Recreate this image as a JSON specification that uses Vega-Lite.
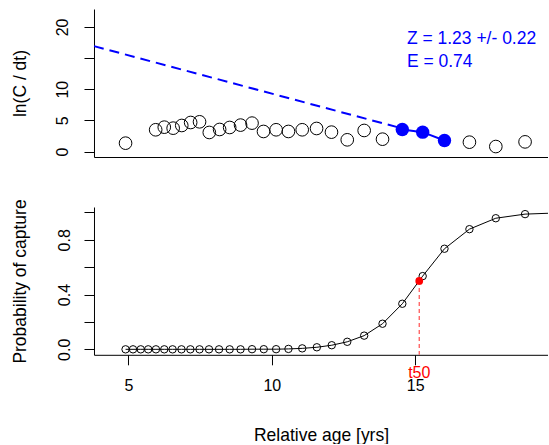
{
  "$schema": "https://vega.github.io/schema/vega-lite/v6.json",
  "padding": {"left": 12, "top": 9, "right": 0, "bottom": 0},
  "background": "white",
  "config": {
    "view": {"stroke": null},
    "font": "Liberation Sans",
    "axis": {"grid": false, "domainColor": "#000", "tickColor": "#000", "labelColor": "#000", "titleColor": "#000", "labelFont": "Liberation Sans", "titleFont": "Liberation Sans", "labelFontSize": 16, "titleFontSize": 17.5, "titleFontWeight": "normal", "tickSize": 10}
  },
  "datasets": {
    "open": [
      {"age": 4.90, "lnc": 1.34}, {"age": 5.95, "lnc": 3.49}, {"age": 6.25, "lnc": 3.91}, {"age": 6.56, "lnc": 3.75},
      {"age": 6.86, "lnc": 4.18}, {"age": 7.17, "lnc": 4.66}, {"age": 7.48, "lnc": 4.77}, {"age": 7.82, "lnc": 3.06},
      {"age": 8.18, "lnc": 3.54}, {"age": 8.53, "lnc": 3.86}, {"age": 8.91, "lnc": 4.24}, {"age": 9.31, "lnc": 4.56},
      {"age": 9.71, "lnc": 3.22}, {"age": 10.15, "lnc": 3.49}, {"age": 10.58, "lnc": 3.22}, {"age": 11.06, "lnc": 3.49},
      {"age": 11.56, "lnc": 3.70}, {"age": 12.08, "lnc": 3.11}, {"age": 12.63, "lnc": 1.88}, {"age": 13.22, "lnc": 3.38},
      {"age": 13.86, "lnc": 1.98}, {"age": 16.89, "lnc": 1.50}, {"age": 17.81, "lnc": 0.80}, {"age": 18.83, "lnc": 1.55}
    ],
    "blue": [
      {"age": 14.55, "lnc": 3.54}, {"age": 15.26, "lnc": 3.11}, {"age": 16.02, "lnc": 1.77}
    ],
    "fitline": [
      {"age": 3.8, "lnc": 16.92}, {"age": 14.55, "lnc": 3.70}
    ],
    "prob": [
      {"age": 4.90, "p": 0}, {"age": 5.16, "p": 0}, {"age": 5.43, "p": 0}, {"age": 5.69, "p": 0},
      {"age": 5.96, "p": 0}, {"age": 6.25, "p": 0}, {"age": 6.54, "p": 0}, {"age": 6.85, "p": 0},
      {"age": 7.16, "p": 0}, {"age": 7.48, "p": 0}, {"age": 7.81, "p": 0}, {"age": 8.16, "p": 0},
      {"age": 8.53, "p": 0}, {"age": 8.91, "p": 0}, {"age": 9.31, "p": 0.001}, {"age": 9.72, "p": 0.001},
      {"age": 10.15, "p": 0.001}, {"age": 10.58, "p": 0.003}, {"age": 11.06, "p": 0.007}, {"age": 11.57, "p": 0.015},
      {"age": 12.09, "p": 0.03}, {"age": 12.63, "p": 0.055}, {"age": 13.22, "p": 0.10}, {"age": 13.86, "p": 0.187},
      {"age": 14.55, "p": 0.333}, {"age": 15.26, "p": 0.535}, {"age": 16.02, "p": 0.735}, {"age": 16.89, "p": 0.878},
      {"age": 17.81, "p": 0.958}, {"age": 18.83, "p": 0.988}, {"age": 20.0, "p": 0.997}
    ],
    "t50": [{"age": 15.14, "p": 0.5, "label": "t50", "base": -0.04, "labely": -0.171}],
    "stats": [
      {"age": 14.71, "lnc": 18.05, "label": "Z = 1.23 +/- 0.22"},
      {"age": 14.71, "lnc": 14.42, "label": "E  =  0.74"}
    ]
  },
  "spacing": 50,
  "bounds": "flush",
  "vconcat": [
    {
      "width": 454.3,
      "height": 148,
      "encoding": {
        "x": {"field": "age", "type": "quantitative", "scale": {"domain": [3.8, 19.64], "nice": false, "zero": false},
              "axis": {"title": null, "labels": false, "ticks": false, "domain": true}},
        "y": {"field": "lnc", "type": "quantitative", "scale": {"domain": [-0.88, 22.88], "nice": false, "zero": false},
              "axis": {"title": "ln(C / dt)", "values": [0, 5, 10, 15, 20], "labelExpr": "datum.value == 15 ? '' : datum.label",
                       "labelAngle": -90, "labelAlign": "center", "labelBaseline": "alphabetic", "labelPadding": 16,
                       "titleAngle": -90, "titleAlign": "center", "titleBaseline": "alphabetic", "titleX": -68, "titleY": 74}}
      },
      "layer": [
        {"mark": {"type": "rule", "color": "#000", "strokeWidth": 1}, "encoding": {"y": {"datum": 22.88}, "x": null}},
        {"data": {"name": "fitline"}, "mark": {"type": "line", "color": "#0000ff", "strokeWidth": 2, "strokeDash": [10, 6], "clip": true}},
        {"data": {"name": "blue"}, "mark": {"type": "line", "color": "#0000ff", "strokeWidth": 2}},
        {"data": {"name": "open"}, "mark": {"type": "point", "shape": "circle", "filled": false, "color": "#000", "size": 160, "strokeWidth": 1, "opacity": 1}},
        {"data": {"name": "blue"}, "mark": {"type": "point", "shape": "circle", "filled": true, "color": "#0000ff", "size": 180, "opacity": 1}},
        {"data": {"name": "stats"}, "mark": {"type": "text", "align": "left", "baseline": "middle", "color": "#0000ff", "fontSize": 17.5, "font": "Liberation Sans"},
         "encoding": {"text": {"field": "label"}}}
      ]
    },
    {
      "width": 454.3,
      "height": 147.8,
      "encoding": {
        "x": {"field": "age", "type": "quantitative", "scale": {"domain": [3.8, 19.64], "nice": false, "zero": false},
              "axis": {"title": "Relative age [yrs]", "values": [5, 10, 15], "labelPadding": 13, "labelBaseline": "top",
                       "titleBaseline": "alphabetic", "titleY": 85.7, "titleX": 227}},
        "y": {"field": "p", "type": "quantitative", "scale": {"domain": [-0.04, 1.04], "nice": false, "zero": false},
              "axis": {"title": "Probability of capture", "values": [0, 0.2, 0.4, 0.6, 0.8, 1.0],
                       "labelExpr": "datum.value == 0 || datum.value == 0.4 || datum.value == 0.8 ? format(datum.value, '.1f') : ''",
                       "labelAngle": -90, "labelAlign": "center", "labelBaseline": "alphabetic", "labelPadding": 14,
                       "titleAngle": -90, "titleAlign": "center", "titleBaseline": "alphabetic", "titleX": -68, "titleY": 74}}
      },
      "layer": [
        {"mark": {"type": "rule", "color": "#000", "strokeWidth": 1}, "encoding": {"y": {"datum": 1.04}, "x": null}},
        {"data": {"name": "prob"}, "mark": {"type": "line", "color": "#000", "strokeWidth": 1, "clip": true}},
        {"data": {"name": "prob"}, "mark": {"type": "point", "shape": "circle", "filled": false, "color": "#000", "size": 55, "strokeWidth": 1, "opacity": 1, "clip": true}},
        {"data": {"name": "t50"}, "mark": {"type": "rule", "color": "#ff4d4d", "strokeWidth": 1.2, "strokeDash": [4, 3]},
         "encoding": {"y2": {"field": "base"}}},
        {"data": {"name": "t50"}, "mark": {"type": "point", "shape": "circle", "filled": true, "color": "#ff0000", "size": 60, "opacity": 1}},
        {"data": {"name": "t50"}, "mark": {"type": "text", "align": "center", "baseline": "middle", "color": "#ff0000", "fontSize": 16, "font": "Liberation Sans"},
         "encoding": {"y": {"field": "labely", "type": "quantitative"}, "text": {"field": "label"}}}
      ]
    }
  ]
}
